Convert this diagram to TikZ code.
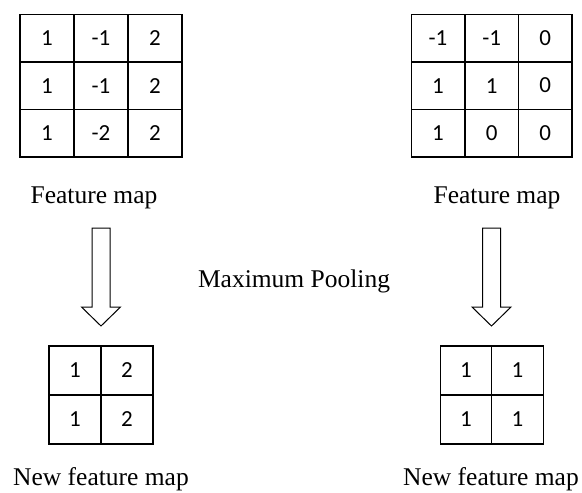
\documentclass[tikz,border=0pt]{standalone}
\usepackage{fontspec}
\setmainfont{Liberation Serif}
\newfontfamily\cellfont{Carlito}
\begin{document}
\begin{tikzpicture}[x=1pt,y=-1pt,
  cellbig/.style={draw, line width=1.3pt, inner sep=0pt, outer sep=0pt,
    minimum width=54pt, minimum height=47.7pt, font=\cellfont\fontsize{23}{23}\selectfont},
  cellsmall/.style={draw, line width=1.3pt, inner sep=0pt, outer sep=0pt,
    minimum width=52pt, minimum height=49pt, font=\cellfont\fontsize{23}{23}\selectfont},
  caption/.style={anchor=base, inner sep=0pt, font=\fontsize{25.5}{26}\selectfont},
  blockarrow/.style={draw, line width=1pt, fill=white, line join=miter}]
\useasboundingbox (0,0) rectangle (582,493);

% input feature maps (3x3)
\foreach \v [count=\i from 0] in {1,-1,2,1,-1,2,1,-2,2} {
  \pgfmathtruncatemacro\r{int(\i/3)}
  \pgfmathtruncatemacro\c{mod(\i,3)}
  \node[cellbig] (a\r\c) at (47+54*\c, 38+47.6*\r) {\v};
}
\foreach \v [count=\i from 0] in {-1,-1,0,1,1,0,1,0,0} {
  \pgfmathtruncatemacro\r{int(\i/3)}
  \pgfmathtruncatemacro\c{mod(\i,3)}
  \node[cellbig, minimum width=53.7pt] (b\r\c) at (438+53.6*\c, 38+47.6*\r) {\v};
}

% pooled maps (2x2)
\foreach \v [count=\i from 0] in {1,2,1,2} {
  \pgfmathtruncatemacro\r{int(\i/2)}
  \pgfmathtruncatemacro\c{mod(\i,2)}
  \node[cellsmall] (p\r\c) at (75+52*\c, 370.5+49*\r) {\v};
}
\foreach \v [count=\i from 0] in {1,1,1,1} {
  \pgfmathtruncatemacro\r{int(\i/2)}
  \pgfmathtruncatemacro\c{mod(\i,2)}
  \node[cellsmall, minimum width=51.5pt] (q\r\c) at (466+51.5*\c, 370.5+49*\r) {\v};
}

% captions
\node[caption] (capA) at (94,203) {Feature map};
\node[caption] (capB) at (497,203) {Feature map};
\node[caption] (pool) at (294,287) {Maximum Pooling};
\node[caption] (capP) at (101,485) {New feature map};
\node[caption] (capQ) at (491,485) {New feature map};

% hollow block arrows (offsets in picture units, y pointing down)
\coordinate (arrA) at (101,228);
\coordinate (arrB) at (491.5,228);
\foreach \a in {arrA,arrB} {
  \draw[blockarrow] ([shift={(-9,0)}]\a) -- ([shift={(9,0)}]\a) -- ([shift={(9,79)}]\a)
    -- ([shift={(19.5,79)}]\a) -- ([shift={(0,98)}]\a) -- ([shift={(-19.5,79)}]\a)
    -- ([shift={(-9,79)}]\a) -- cycle;
}
\end{tikzpicture}
\end{document}
